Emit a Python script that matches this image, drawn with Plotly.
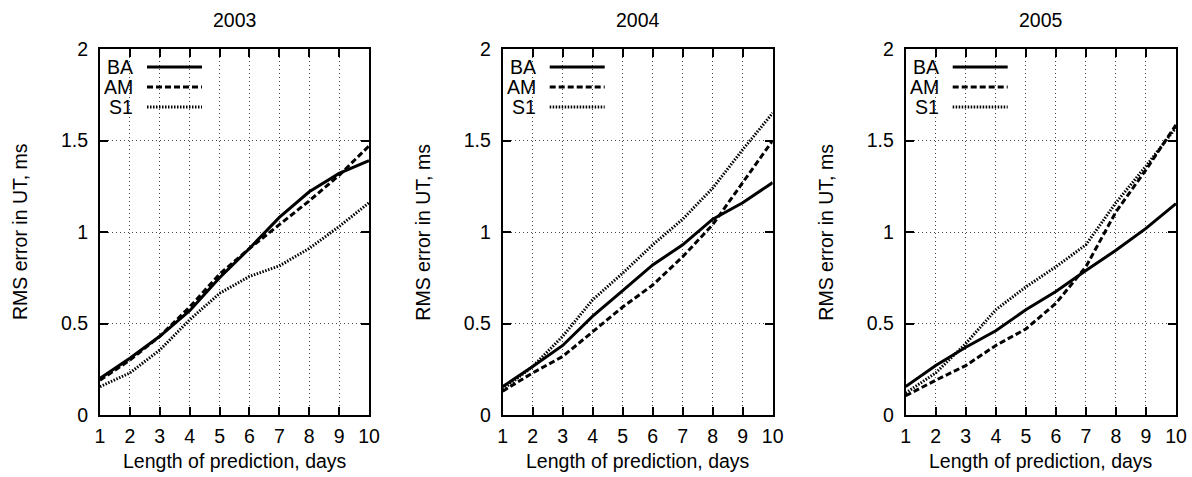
import plotly.graph_objects as go

days = [1, 2, 3, 4, 5, 6, 7, 8, 9, 10]
years = ["2003", "2004", "2005"]

ba_2003 = [0.20, 0.31, 0.43, 0.57, 0.75, 0.91, 1.08, 1.22, 1.32, 1.39]
am_2003 = [0.19, 0.30, 0.43, 0.59, 0.77, 0.91, 1.04, 1.17, 1.31, 1.47]
s1_2003 = [0.155, 0.23, 0.355, 0.52, 0.665, 0.757, 0.815, 0.91, 1.03, 1.16]

ba_2004 = [0.155, 0.265, 0.38, 0.54, 0.68, 0.82, 0.93, 1.07, 1.16, 1.27]
am_2004 = [0.13, 0.23, 0.32, 0.455, 0.59, 0.71, 0.865, 1.04, 1.27, 1.50]
s1_2004 = [0.14, 0.265, 0.43, 0.63, 0.775, 0.93, 1.07, 1.24, 1.45, 1.65]

ba_2005 = [0.155, 0.27, 0.37, 0.46, 0.575, 0.675, 0.79, 0.90, 1.02, 1.155]
am_2005 = [0.105, 0.19, 0.27, 0.38, 0.47, 0.61, 0.81, 1.11, 1.34, 1.585]
s1_2005 = [0.12, 0.23, 0.39, 0.575, 0.70, 0.81, 0.93, 1.16, 1.36, 1.57]

series_names = ["BA", "AM", "S1"]
panels = [
    (ba_2003, am_2003, s1_2003),
    (ba_2004, am_2004, s1_2004),
    (ba_2005, am_2005, s1_2005),
]

W, H = 1192, 477
x_px = [(100, 369), (502.7, 772.7), (905.7, 1176)]
y_top, y_bot = 49, 415

styles = {
    "BA": dict(color="black", width=3, dash="solid"),
    "AM": dict(color="black", width=3, dash="6px,3px"),
    "S1": dict(color="black", width=3, dash="1.5px,1.5px"),
}

FONT = "Liberation Sans, Arial, sans-serif"
FS = 19.5
fig = go.Figure()
annotations = []
shapes = []

for i, (year, vals) in enumerate(zip(years, panels)):
    sfx = "" if i == 0 else str(i + 1)
    xa = "x" + sfx
    ya = "y" + sfx
    for name, v in zip(series_names, vals):
        fig.add_trace(go.Scatter(x=days, y=v, mode="lines", name=name,
                                 line=styles[name], xaxis=xa, yaxis=ya,
                                 showlegend=False))
    x0, x1 = x_px[i]
    axcommon = dict(
        showline=True, linecolor="black", linewidth=2, mirror="allticks",
        ticks="inside", ticklen=8, tickwidth=1.5, tickcolor="black",
        showgrid=True, gridcolor="#444444", griddash="1px,3px", gridwidth=1,
        zeroline=False, automargin=False,
        tickfont=dict(family=FONT, size=FS, color="black"),
    )
    fig.layout["xaxis" + sfx] = dict(
        domain=[x0 / W, x1 / W], anchor=ya, range=[1, 10],
        tickvals=days, ticklabelstandoff=3, **axcommon)
    fig.layout["yaxis" + sfx] = dict(
        domain=[1 - y_bot / H, 1 - y_top / H], anchor=xa, range=[0, 2],
        tickvals=[0, 0.5, 1, 1.5, 2], ticktext=["0", "0.5", "1", "1.5", "2"],
        ticklabelstandoff=6, **axcommon)

    dom = "x" + sfx + " domain"
    ydom = "y" + sfx + " domain"
    annotations.append(dict(text=year, xref=dom, yref="paper", x=0.5, y=1 - 20 / H,
                            xanchor="center", yanchor="middle", showarrow=False,
                            font=dict(family=FONT, size=FS, color="black")))
    annotations.append(dict(text="Length of prediction, days", xref=dom, yref="paper",
                            x=0.5, y=1 - 461 / H, xanchor="center", yanchor="middle",
                            showarrow=False, font=dict(family=FONT, size=FS, color="black")))
    annotations.append(dict(text="RMS error in UT, ms", xref=dom, yref="paper",
                            x=0, xshift=-80, y=1 - ((y_top + y_bot) / 2) / H,
                            xanchor="center", yanchor="middle", textangle=-90,
                            showarrow=False, font=dict(family=FONT, size=FS, color="black")))
    span = x1 - x0
    for k, name in enumerate(series_names):
        ly = (y_bot - (67 + 20 * k)) / (y_bot - y_top)
        annotations.append(dict(text=name, xref=dom, yref=ydom, x=35 / span,
                                y=ly, xanchor="right", yanchor="middle", showarrow=False,
                                font=dict(family=FONT, size=FS, color="black")))
        shapes.append(dict(type="line", xref=dom, yref=ydom,
                           x0=47 / span, x1=102 / span, y0=ly, y1=ly,
                           line=styles[name]))

fig.update_layout(
    width=W, height=H, autosize=False,
    margin=dict(l=0, r=0, t=0, b=0, pad=0, autoexpand=False),
    paper_bgcolor="white", plot_bgcolor="white",
    annotations=annotations, shapes=shapes, showlegend=False,
    font=dict(family=FONT, size=FS, color="black"),
)

fig.write_html(
    "out.html",
    config={"displayModeBar": False},
    post_script="document.body.style.margin='0';document.body.style.overflow='hidden';",
)
